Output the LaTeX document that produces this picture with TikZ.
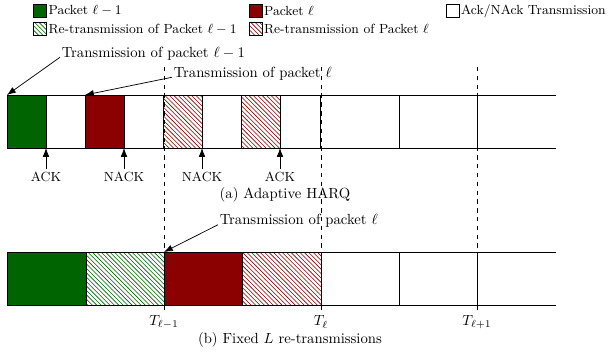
\documentclass[tikz,border=0pt]{standalone}
\usetikzlibrary{patterns,arrows.meta}
\definecolor{pgreen}{RGB}{0,100,0}
\definecolor{pred}{RGB}{139,0,0}
\tikzset{
 cellbox/.style={draw=black, line width=0.6pt, inner sep=0pt, outer sep=0pt, anchor=north west, minimum height=53*0.68pt},
 cw/.style={minimum width=#1*0.68pt},
 gfill/.style={fill=pgreen},
 rfill/.style={fill=pred},
 ghatch/.style={pattern=north west lines, pattern color=pgreen},
 rhatch/.style={pattern=north west lines, pattern color=pred},
 legbox/.style={draw=black, line width=0.5pt, inner sep=0pt, minimum size=13*0.68pt},
 legtext/.style={anchor=west, inner sep=1pt, font=\small},
 ptr/.style={-{Latex[length=6pt,width=4.5pt]}, line width=0.5pt},
 acklab/.style={font=\small, inner sep=2pt},
 vdash/.style={dashed, line width=0.5pt},
 rowline/.style={line width=0.6pt},
 ptext/.style={anchor=west, inner sep=1pt},
}
\begin{document}
\begin{tikzpicture}[x=0.68pt,y=-0.68pt]
\useasboundingbox (0,0) rectangle (610,354);

% legend
\node[legbox,gfill] (lg1) at (40,11) {};
\node[legtext] (lt1) at (lg1.east) {Packet $\ell-1$};
\node[legbox,rfill] (lg2) at (255.5,11) {};
\node[legtext] (lt2) at (lg2.east) {Packet $\ell$};
\node[legbox] (lg3) at (452.5,11) {};
\node[legtext] (lt3) at (lg3.east) {Ack/NAck Transmission};
\node[legbox,ghatch] (lg4) at (40,29) {};
\node[legtext] (lt4) at (lg4.east) {Re-transmission of Packet $\ell-1$};
\node[legbox,rhatch] (lg5) at (255.5,29) {};
\node[legtext] (lt5) at (lg5.east) {Re-transmission of Packet $\ell$};

% dashed time markers
\coordinate (d1t) at (164,67);
\coordinate (d2t) at (321,67);
\coordinate (d3t) at (477,67);
\node (T1) at (164,322) {$T_{\ell-1}$};
\node (T2) at (321,322) {$T_{\ell}$};
\node (T3) at (477,322) {$T_{\ell+1}$};

% row (a)
\node[cellbox,cw=39,gfill] (a1) at (7,95) {};
\node[cellbox,cw=39] (a2) at (46,95) {};
\node[cellbox,cw=39,rfill] (a3) at (85,95) {};
\node[cellbox,cw=39] (a4) at (124,95) {};
\node[cellbox,cw=39,rhatch] (a5) at (163,95) {};
\node[cellbox,cw=39] (a6) at (202,95) {};
\node[cellbox,cw=39,rhatch] (a7) at (241,95) {};
\node[cellbox,cw=40] (a8) at (280,95) {};
\node[cellbox,cw=79] (a9) at (320,95) {};
\node[cellbox,cw=78] (a10) at (399,95) {};
\coordinate (aet) at (556,95);
\coordinate (aeb) at (556,148);
\draw[rowline] (a10.north east) -- (aet);
\draw[rowline] (a10.south east) -- (aeb);

% row (b)
\node[cellbox,cw=79,gfill] (b1) at (7,252) {};
\node[cellbox,cw=78,ghatch] (b2) at (86,252) {};
\node[cellbox,cw=78,rfill] (b3) at (164,252) {};
\node[cellbox,cw=79,rhatch] (b4) at (242,252) {};
\node[cellbox,cw=78] (b5) at (321,252) {};
\node[cellbox,cw=78] (b6) at (399,252) {};
\coordinate (bet) at (556,252);
\coordinate (beb) at (556,305);
\draw[rowline] (b6.north east) -- (bet);
\draw[rowline] (b6.south east) -- (beb);

\draw[vdash] (d1t) -- (T1.north);
\draw[vdash] (d2t) -- (T2.north);
\draw[vdash] (d3t) -- (T3.north);

% ACK / NACK
\node[acklab] (k1) at (46,177) {ACK};
\node[acklab] (k2) at (124,177) {NACK};
\node[acklab] (k3) at (202,177) {NACK};
\node[acklab] (k4) at (280,177) {ACK};
\draw[ptr] (k1.north) -- (a1.south east);
\draw[ptr] (k2.north) -- (a3.south east);
\draw[ptr] (k3.north) -- (a5.south east);
\draw[ptr] (k4.north) -- (a7.south east);

% pointer texts
\node[ptext] (p1) at (60,53.5) {Transmission of packet $\ell-1$};
\draw[ptr] (p1.base west) -- (a1.north west);
\node[ptext] (p2) at (172,73.5) {Transmission of packet $\ell$};
\draw[ptr] (p2.base west) -- (a3.north west);
\node[ptext] (p3) at (218,221) {Transmission of packet $\ell$};
\draw[ptr] (p3.base west) -- (b3.north west);

% captions
\node (capa) at (285,195) {(a) Adaptive HARQ};
\node (capb) at (290,340) {(b) Fixed $L$ re-transmissions};
\end{tikzpicture}
\end{document}
